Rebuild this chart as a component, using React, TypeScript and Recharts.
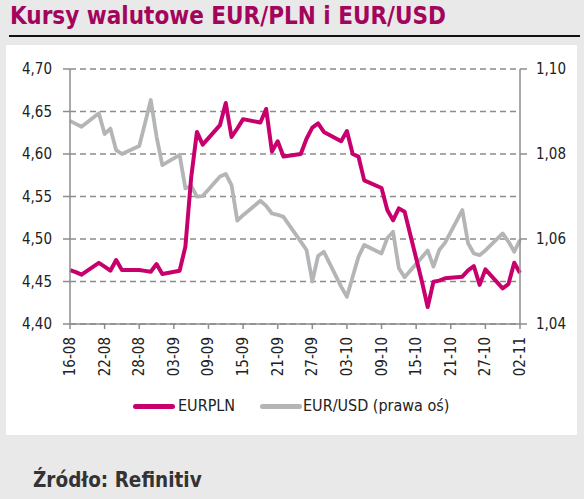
import React from 'react';
import { LineChart, Line, XAxis, YAxis, CartesianGrid, Legend } from 'recharts';

const FONT = "'DejaVu Sans Condensed', 'DejaVu Sans', sans-serif";

const DATES = [
  '2023-08-16', '2023-08-17', '2023-08-18', '2023-08-21', '2023-08-22', '2023-08-23', '2023-08-24', '2023-08-25',
  '2023-08-28', '2023-08-29', '2023-08-30', '2023-08-31',
  '2023-09-01', '2023-09-04', '2023-09-05', '2023-09-06', '2023-09-07', '2023-09-08', '2023-09-11', '2023-09-12',
  '2023-09-13', '2023-09-14', '2023-09-15', '2023-09-18', '2023-09-19', '2023-09-20', '2023-09-21', '2023-09-22',
  '2023-09-25', '2023-09-26', '2023-09-27', '2023-09-28', '2023-09-29',
  '2023-10-02', '2023-10-03', '2023-10-04', '2023-10-05', '2023-10-06', '2023-10-09', '2023-10-10', '2023-10-11',
  '2023-10-12', '2023-10-13', '2023-10-16', '2023-10-17', '2023-10-18', '2023-10-19', '2023-10-20', '2023-10-23',
  '2023-10-24', '2023-10-25', '2023-10-26', '2023-10-27', '2023-10-30', '2023-10-31',
  '2023-11-01', '2023-11-02',
];

const EURPLN = [
  4.4635, 4.461, 4.458, 4.472, 4.4675, 4.4627, 4.4753, 4.4635, 4.4635, 4.4625, 4.4615, 4.4706,
  4.4588, 4.4627, 4.491, 4.572, 4.626, 4.611, 4.634, 4.66, 4.62, 4.63, 4.641, 4.637, 4.653, 4.603, 4.615, 4.597,
  4.6, 4.618, 4.631, 4.636, 4.626,
  4.615, 4.627, 4.6, 4.597, 4.569, 4.56, 4.534, 4.522, 4.536, 4.532, 4.45, 4.42, 4.4498, 4.451, 4.4537, 4.4557,
  4.463, 4.468, 4.446, 4.4643, 4.442, 4.447,
  4.472, 4.46,
];

const EURUSD = [
  1.0878, 1.0871, 1.0864, 1.0896, 1.0847, 1.086, 1.0809, 1.08, 1.0819, 1.0872, 1.0927, 1.0841,
  1.0774, 1.0798, 1.0719, 1.0725, 1.07, 1.0701, 1.0747, 1.0753, 1.0727, 1.0643, 1.0656, 1.069, 1.0678, 1.066,
  1.0657, 1.0652, 1.0594, 1.0574, 1.05, 1.056, 1.057,
  1.0488, 1.0464, 1.0511, 1.0558, 1.0586, 1.0566, 1.0602, 1.0617, 1.0531, 1.051, 1.0557, 1.0573, 1.0535, 1.0574,
  1.0591, 1.0668, 1.059, 1.0566, 1.0562, 1.0573, 1.0613, 1.0594,
  1.057, 1.0598,
];

const TICK_DATES = [
  '2023-08-16', '2023-08-22', '2023-08-28', '2023-09-03', '2023-09-09', '2023-09-15', '2023-09-21',
  '2023-09-27', '2023-10-03', '2023-10-09', '2023-10-15', '2023-10-21', '2023-10-27', '2023-11-02',
];

const LEFT_TICKS = [4.4, 4.45, 4.5, 4.55, 4.6, 4.65, 4.7];
const RIGHT_TICKS = [1.04, 1.06, 1.08, 1.1];

const SERIES_NAMES = ['EURPLN', 'EUR/USD (prawa oś)'];
const PINK = '#c8006e';
const GREY = '#b3b5b7';
const AXIS = '#8c8c8c';

const toUtc = (s: string) => {
  const [y, m, d] = s.split('-').map(Number);
  return Date.UTC(y, m - 1, d);
};
const ORIGIN = toUtc(DATES[0]);
const dayIndex = (s: string) => Math.round((toUtc(s) - ORIGIN) / 86400000);
const labelFor = (idx: number) => {
  const t = new Date(ORIGIN + idx * 86400000);
  const dd = String(t.getUTCDate()).padStart(2, '0');
  const mm = String(t.getUTCMonth() + 1).padStart(2, '0');
  return `${dd}-${mm}`;
};

const data = DATES.map((d, i) => ({ day: dayIndex(d), pln: EURPLN[i], usd: EURUSD[i] }));
const xTicks = TICK_DATES.map(dayIndex);
const comma = (v: number) => v.toFixed(2).replace('.', ',');

const XTick = (props: any) => {
  const { x, y, payload } = props;
  return (
    <text
      x={x}
      y={y}
      transform={`rotate(-90, ${x}, ${y})`}
      textAnchor="end"
      dominantBaseline="central"
      fontSize={15}
      fontFamily={FONT}
      fill="#222"
    >
      {labelFor(payload.value)}
    </text>
  );
};

const LegendContent = () => (
  <div style={{ position: 'relative', height: 26, fontFamily: FONT, fontSize: 16, color: '#222' }}>
    <div style={{ position: 'absolute', left: 133, top: 11, width: 42, height: 4.5, borderRadius: 3, background: PINK }} />
    <div style={{ position: 'absolute', left: 178, top: 3, whiteSpace: 'nowrap' }}>{SERIES_NAMES[0]}</div>
    <div style={{ position: 'absolute', left: 260, top: 11, width: 42, height: 4.5, borderRadius: 3, background: GREY }} />
    <div style={{ position: 'absolute', left: 303, top: 3, whiteSpace: 'nowrap' }}>{SERIES_NAMES[1]}</div>
  </div>
);

export default function App() {
  return (
    <div style={{ position: 'absolute', left: 0, top: 0, width: 584, height: 499, background: '#e9e9e9', overflow: 'hidden' }}>
      <div
        style={{
          position: 'absolute', left: 10, top: 2, fontFamily: FONT, fontWeight: 'bold', fontSize: 24,
          color: '#a3055c', whiteSpace: 'nowrap',
        }}
      >
        Kursy walutowe EUR/PLN i EUR/USD
      </div>
      <div style={{ position: 'absolute', left: 9, top: 34.5, width: 571, height: 2, background: '#111' }} />
      <div style={{ position: 'absolute', left: 6, top: 45, width: 571, height: 390, background: '#fff' }} />
      <div style={{ position: 'absolute', left: 0, top: 0 }}>
        <LineChart width={584} height={440} data={data} margin={{ top: 69, right: 14, left: 10, bottom: 56 }}>
          <CartesianGrid yAxisId="left" vertical={false} stroke={AXIS} strokeDasharray="6 4" strokeWidth={1.4} />
          <XAxis
            dataKey="day"
            type="number"
            domain={[0, 78]}
            ticks={xTicks}
            interval={0}
            height={60}
            tick={<XTick />}
            tickSize={5}
            tickMargin={8}
            stroke={AXIS}
            strokeWidth={1.5}
            allowDecimals={false}
          />
          <YAxis
            yAxisId="left"
            orientation="left"
            domain={[4.4, 4.7]}
            ticks={LEFT_TICKS}
            tickFormatter={comma}
            width={60}
            tickSize={7}
            tickMargin={11}
            stroke={AXIS}
            strokeWidth={1.5}
            tick={{ fontSize: 15, fill: '#222', fontFamily: FONT }}
            interval={0}
          />
          <YAxis
            yAxisId="right"
            orientation="right"
            domain={[1.04, 1.1]}
            ticks={RIGHT_TICKS}
            tickFormatter={comma}
            width={50}
            tickSize={7}
            tickMargin={9}
            stroke={AXIS}
            strokeWidth={1.5}
            tick={{ fontSize: 15, fill: '#222', fontFamily: FONT }}
            interval={0}
          />
          <Legend
            verticalAlign="middle"
            align="center"
            content={<LegendContent />}
            wrapperStyle={{ top: 393, left: 0, width: 584 }}
          />
          <Line
            yAxisId="right"
            dataKey="usd"
            name={SERIES_NAMES[1]}
            stroke={GREY}
            strokeWidth={3.8}
            dot={false}
            isAnimationActive={false}
            strokeLinejoin="round"
          />
          <Line
            yAxisId="left"
            dataKey="pln"
            name={SERIES_NAMES[0]}
            stroke={PINK}
            strokeWidth={4}
            dot={false}
            isAnimationActive={false}
            strokeLinejoin="round"
          />
        </LineChart>
      </div>
      <div
        style={{
          position: 'absolute', left: 33, top: 468, fontFamily: FONT, fontWeight: 'bold', fontSize: 20.5,
          color: '#333', whiteSpace: 'nowrap',
        }}
      >
        Źródło: Refinitiv
      </div>
    </div>
  );
}
